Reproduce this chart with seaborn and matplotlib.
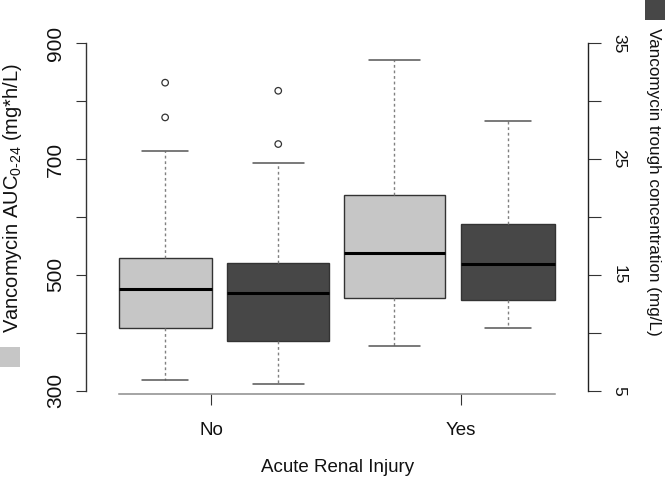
import matplotlib
matplotlib.use("Agg")
import matplotlib.pyplot as plt
from matplotlib.patches import Rectangle
import seaborn as sns

# values (five-number summaries + outliers)
groups = ["No", "Yes"]
auc_no = [318, 408, 475, 530, 714]
auc_no_out = [772, 832]
auc_yes = [378, 460, 538, 638, 872]
trough_no = [5.6, 9.3, 13.4, 16.0, 24.7]
trough_no_out = [26.3, 30.9]
trough_yes = [10.4, 12.8, 15.9, 19.4, 28.3]

auc_ticks = [300, 500, 700, 900]
auc_minor = [400, 600, 800]
trough_ticks = [5, 15, 25, 35]
trough_minor = [10, 20, 30]

# layout (R-like box placement)
group_pos = [1, 2]
auc_pos = [0.815, 1.733]
auc_width = [0.372, 0.404]
trough_pos = [1.268, 2.188]
trough_width = [0.407, 0.375]

light = "#c6c6c6"
dark = "#474747"
edge = "#333333"

sns.set_style("ticks")
plt.rcParams["font.family"] = ["Liberation Sans", "DejaVu Sans"]
plt.rcParams["mathtext.fontset"] = "custom"
plt.rcParams["mathtext.rm"] = "Liberation Sans"
plt.rcParams["mathtext.it"] = "Liberation Sans:italic"
plt.rcParams["text.color"] = "#111111"

W, H = 666, 478
fig = plt.figure(figsize=(W / 100, H / 100), dpi=100)
ax = fig.add_axes([86.5 / W, (H - 394.3) / H, (588.3 - 86.5) / W, (394.3 - 43.3) / H])
ax2 = ax.twinx()


def draw_box(axis, pos, width, values, color):
    # whiskers go to the listed extremes; outliers are drawn separately
    sns.boxplot(
        x=[pos] * len(values),
        y=values,
        native_scale=True,
        orient="x",
        width=width,
        color=color,
        saturation=1,
        linecolor=edge,
        linewidth=1,
        whis=(0, 100),
        showfliers=False,
        medianprops=dict(color="black", linewidth=2.2),
        whiskerprops=dict(color="#808080", linewidth=1, linestyle=(0, (2, 2))),
        capprops=dict(color="#555555", linewidth=1.1),
        ax=axis,
    )


def draw_outliers(axis, pos, values):
    sns.scatterplot(
        x=[pos] * len(values),
        y=values,
        marker="o",
        s=22,
        facecolor="none",
        edgecolor=edge,
        linewidth=0.9,
        ax=axis,
    )


draw_box(ax, auc_pos[0], auc_width[0], auc_no, light)
draw_box(ax, auc_pos[1], auc_width[1], auc_yes, light)
draw_outliers(ax, auc_pos[0], auc_no_out)
draw_box(ax2, trough_pos[0], trough_width[0], trough_no, dark)
draw_box(ax2, trough_pos[1], trough_width[1], trough_yes, dark)
draw_outliers(ax2, trough_pos[0], trough_no_out)

ax.set_xlim(0.5, 2.51)
ax.set_ylim(293.8, 900)
ax2.set_ylim(4.69, 35)

ax.set_xticks(group_pos)
ax.set_xticklabels(groups)
ax.set_yticks(auc_ticks)
ax.set_yticks(auc_minor, minor=True)
ax2.set_yticks(trough_ticks)
ax2.set_yticks(trough_minor, minor=True)
ax.yaxis.tick_left()
ax2.yaxis.tick_right()

ax.tick_params(axis="y", which="both", length=7.2, width=0.8, color=edge,
               pad=8.4, labelsize=15, labelcolor="#111111")
ax.tick_params(axis="x", length=7.7, width=0.8, color=edge, pad=12.5,
               labelsize=13.5, labelcolor="#111111")
ax2.tick_params(axis="y", which="both", length=9.4, width=0.8, color=edge,
                pad=7.3, labelsize=12.5, labelcolor="#111111")
for lbl in ax.get_yticklabels():
    lbl.set_rotation(90)
    lbl.set_va("center")
for lbl in ax2.get_yticklabels():
    lbl.set_rotation(270)
    lbl.set_va("center")

ax.set_xlabel("")
ax.set_ylabel("")
ax2.set_ylabel("")

ax.spines["top"].set_visible(False)
ax.spines["right"].set_visible(False)
ax.spines["left"].set_bounds(auc_ticks[0], auc_ticks[-1])
ax.spines["left"].set_color(edge)
ax.spines["left"].set_linewidth(1)
ax.spines["bottom"].set_bounds(auc_pos[0] - auc_width[0] / 2,
                               trough_pos[1] + trough_width[1] / 2)
ax.spines["bottom"].set_color("#8c8c8c")
ax.spines["bottom"].set_linewidth(1.1)
for s in ["left", "top", "bottom"]:
    ax2.spines[s].set_visible(False)
ax2.spines["right"].set_bounds(trough_ticks[0], trough_ticks[-1])
ax2.spines["right"].set_color("#222222")
ax2.spines["right"].set_linewidth(1)

# axis titles with their legend squares
fig.text(13 / W, 1 - 197.5 / H, r"Vancomycin AUC$_{\text{0-24}}$ (mg*h/L)",
         rotation=90, ha="center", va="center", fontsize=14.5)
fig.add_artist(Rectangle((0, 1 - 367 / H), 20 / W, 20 / H,
                         transform=fig.transFigure, color=light, lw=0))
fig.text(653 / W, 1 - 181.5 / H, "Vancomycin trough concentration (mg/L)",
         rotation=270, ha="center", va="center", fontsize=12.3)
fig.add_artist(Rectangle((645 / W, 1 - 20 / H), 20 / W, 20 / H,
                         transform=fig.transFigure, color=dark, lw=0))
fig.text(337.7 / W, 1 - 468 / H, "Acute Renal Injury",
         ha="center", va="center", fontsize=13.5)

fig.savefig("out.png", dpi=100)
